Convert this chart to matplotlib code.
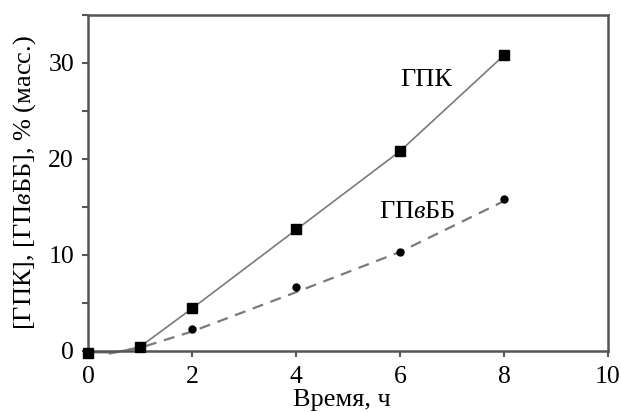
import matplotlib
matplotlib.use("Agg")
import matplotlib.pyplot as plt
from matplotlib.ticker import MultipleLocator

# measured points
hours = [0, 1, 2, 4, 6, 8]
gpk = [-0.2, 0.4, 4.4, 12.7, 20.8, 30.8]
gpvbb_hours = [2, 4, 6, 8]
gpvbb = [2.3, 6.6, 10.3, 15.85]

# trend lines as drawn in the figure
gpk_line_x = [0, 0.5, 1, 2, 4, 6, 8]
gpk_line_y = [-0.2, -0.2, 0.4, 4.4, 12.6, 20.8, 30.8]
gpvbb_line_x = [0.4, 1, 2, 4, 6, 8]
gpvbb_line_y = [-0.3, 0.3, 2.0, 6.1, 10.3, 15.6]

plt.rcParams.update({
    "font.family": "Liberation Serif",
    "font.size": 19,
    "mathtext.fontset": "custom",
    "mathtext.rm": "Liberation Serif",
    "mathtext.it": "Liberation Serif:italic",
})

fig = plt.figure(figsize=(6.21, 4.12), dpi=100)
ax = fig.add_axes([88 / 621, 1 - 350.7 / 412, 520 / 621, 335.7 / 412])

line_color = "#7a7a7a"
ax.plot(gpk_line_x, gpk_line_y, color=line_color, lw=1.2, clip_on=False, zorder=2)
ax.plot(gpvbb_line_x, gpvbb_line_y, color=line_color, lw=1.6, ls=(0, (5, 3.5)), clip_on=False, zorder=2)
ax.plot(hours, gpk, "s", color="black", ms=7.5, clip_on=False, zorder=3)
ax.plot(gpvbb_hours, gpvbb, "o", color="black", ms=5, clip_on=False, zorder=3)

ax.text(6.51, 27.6, "ГПК", ha="center", va="baseline")
ax.text(6.33, 13.8, "ГП$\\mathit{в}$ББ", ha="center", va="baseline")

ax.set_xlim(0, 10)
ax.set_ylim(0, 35)
ax.xaxis.set_major_locator(MultipleLocator(2))
ax.yaxis.set_major_locator(MultipleLocator(10))
ax.yaxis.set_minor_locator(MultipleLocator(5))
ax.tick_params(axis="both", which="both", direction="out", color="#555555", width=1.5, length=4)
ax.tick_params(axis="x", labelsize=18.5, pad=7)
ax.tick_params(axis="y", labelsize=18.5, pad=6)
for spine in ax.spines.values():
    spine.set_color("#555555")
    spine.set_linewidth(1.8)

ax.set_xlabel("Время, ч")
ax.xaxis.set_label_coords(0.4875, -0.114)
ax.set_ylabel("[ГПК], [ГП$\\mathit{в}$ББ], % (масс.)")
ax.yaxis.set_label_coords(-0.096, 0.5)

fig.savefig("out.png", dpi=100, facecolor="white")
